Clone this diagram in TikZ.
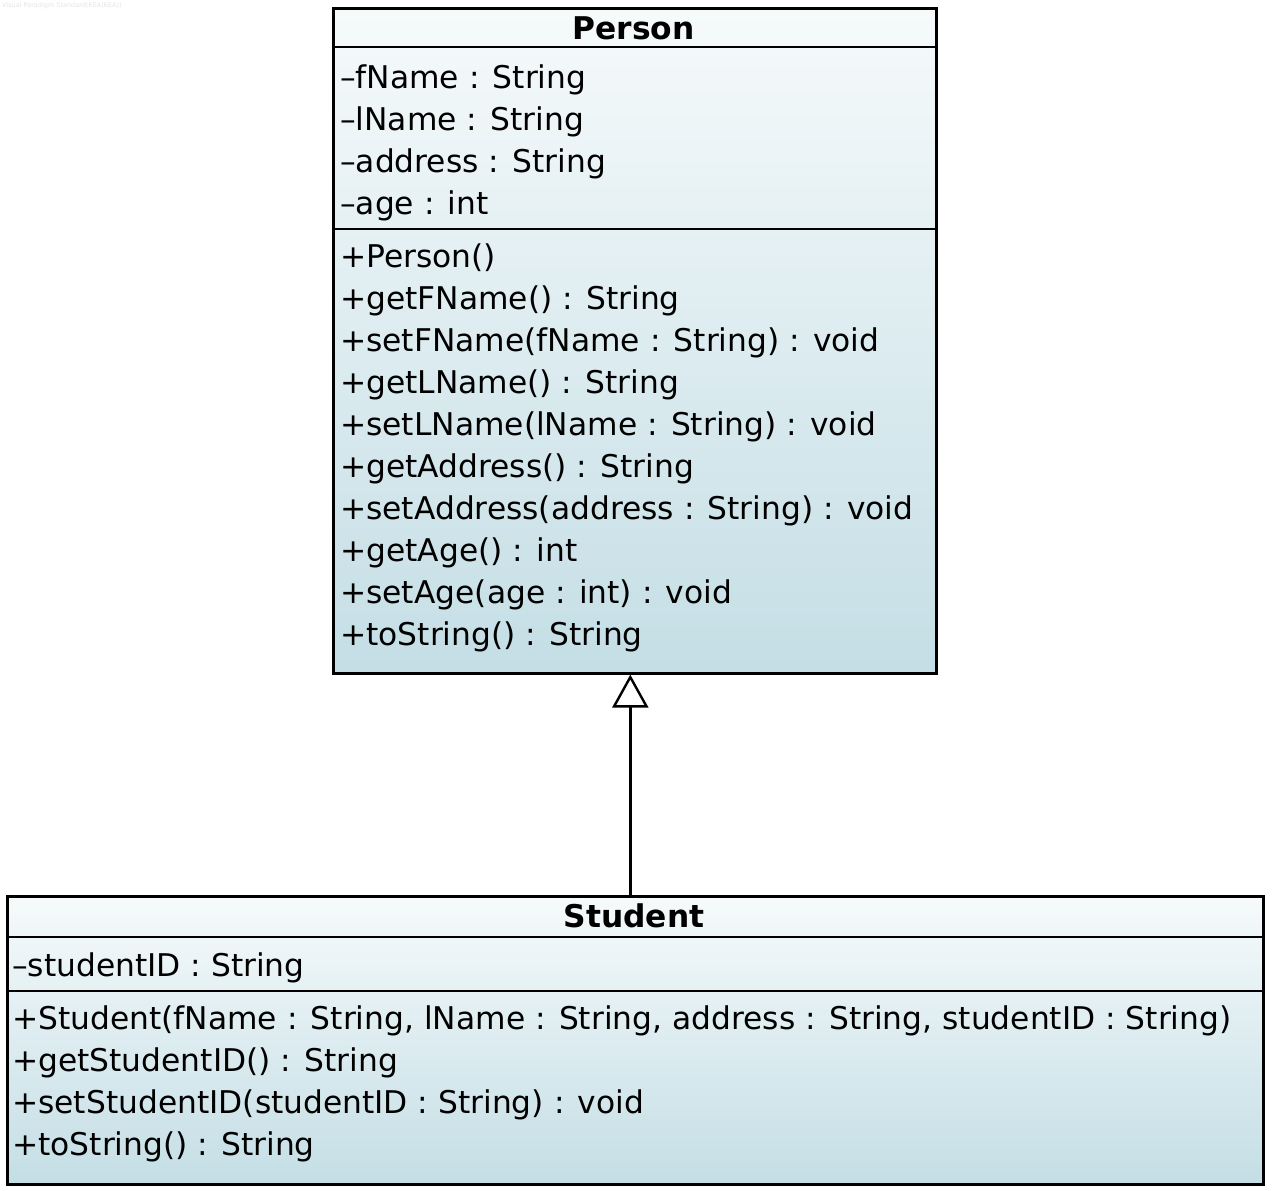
\documentclass[tikz,border=0pt]{standalone}
\usepackage{fontspec}
\setmainfont{DejaVu Sans}
\usetikzlibrary{arrows.meta}
\definecolor{classtop}{RGB}{246,250,251}
\definecolor{classbottom}{RGB}{196,222,229}
\tikzset{
  classbox/.style={draw, line width=2.6pt, top color=classtop, bottom color=classbottom, anchor=north west, inner sep=0pt},
  divider/.style={line width=2.8pt},
  member/.style={anchor=base west, inner sep=0pt, font=\fontsize{31.3}{38}\selectfont},
  classname/.style={anchor=base, inner sep=0pt, font=\fontsize{31.3}{38}\selectfont\bfseries},
  inherit/.style={line width=2.6pt, -{Triangle[open, length=33pt, width=36pt, line width=2.4pt]}},
  watermark/.style={anchor=west, inner sep=0pt, text=black!10, font=\fontsize{6.5}{7}\selectfont}
}
\begin{document}
\begin{tikzpicture}[x=1pt, y=-1pt]
            \fill[white] (0, 0) rectangle (1272, 1191);
            \useasboundingbox (0, 0) rectangle (1272, 1191);
            \node[watermark] (vpmark) at (2, 6) {Visual Paradigm Standard(KEA(KEA))};

            \node[classbox, minimum width=603pt, minimum height=665pt] (person) at (332, 7) {};
            \draw[divider] (332, 47) -- (935, 47);
            \draw[divider] (332, 229) -- (935, 229);
            \node[classname] (personname) at (633.5, 39) {Person};
            \node[member] (pfname) at (340, 88) {–fName : String};
            \node[member] (plname) at (340, 130) {–lName : String};
            \node[member] (paddress) at (340, 172) {–address : String};
            \node[member] (page) at (340, 214) {–age : int};
            \node[member] (pctor) at (340, 267) {+Person()};
            \node[member] (pgetf) at (340, 309) {+getFName() : String};
            \node[member] (psetf) at (340, 351) {+setFName(fName : String) : void};
            \node[member] (pgetl) at (340, 393) {+getLName() : String};
            \node[member] (psetl) at (340, 435) {+setLName(lName : String) : void};
            \node[member] (pgeta) at (340, 477) {+getAddress() : String};
            \node[member] (pseta) at (340, 519) {+setAddress(address : String) : void};
            \node[member] (pgetage) at (340, 561) {+getAge() : int};
            \node[member] (psetage) at (340, 603) {+setAge(age : int) : void};
            \node[member] (ptostr) at (340, 645) {+toString() : String};

            \node[classbox, minimum width=1256pt, minimum height=288pt] (student) at (6, 895) {};
            \draw[divider] (6, 937) -- (1262, 937);
            \draw[divider] (6, 991) -- (1262, 991);
            \node[classname] (studentname) at (634, 927) {Student};
            \node[member] (sid) at (12, 976) {–studentID : String};
            \node[member] (sctor) at (12, 1029) {+Student(fName : String, lName : String, address : String, studentID : String)};
            \node[member] (sgetid) at (12, 1071) {+getStudentID() : String};
            \node[member] (ssetid) at (12, 1113) {+setStudentID(studentID : String) : void};
            \node[member] (stostr) at (12, 1155) {+toString() : String};

            \draw[inherit] ([xshift=-5pt]student.north) -- ([xshift=-4.5pt]person.south);
        \end{tikzpicture}
\end{document}
